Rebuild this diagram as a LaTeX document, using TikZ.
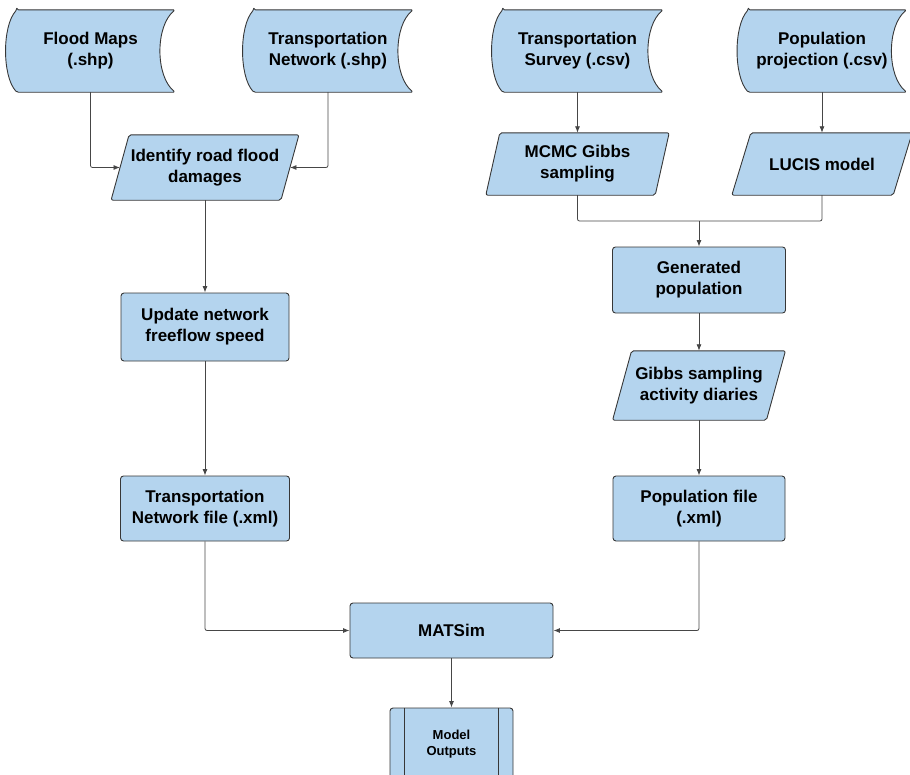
\documentclass[tikz,border=0pt]{standalone}
\usepackage{fontspec}
\setmainfont{Liberation Sans}
\usetikzlibrary{arrows.meta,backgrounds,calc}
\definecolor{boxblue}{RGB}{180,212,238}
\definecolor{edgegray}{RGB}{55,55,55}
\definecolor{linegray}{RGB}{70,70,70}
\begin{document}
\begin{tikzpicture}[x=1pt,y=-1pt,
		base/.style = {inner sep=0pt, align=center, font=\bfseries\fontsize{17}{21}\selectfont},
		proc node/.style = {base, rectangle, rounded corners=3pt, draw=edgegray, fill=boxblue, line width=0.9pt},
		io node/.style = {base, rectangle},
		store node/.style = {base, rectangle, minimum height=82},
		shape line/.style = {draw=edgegray, fill=boxblue, line width=0.9pt, line join=round},
		link/.style = {draw=linegray, line width=0.8pt, rounded corners=2pt},
		flow/.style = {link, -{Latex[length=6.5pt,width=5pt]}}]
		\useasboundingbox (0,0) rectangle (910,774);
		
		% input files
		\node[store node, minimum width=169] (fmap) at (90.5,51) {Flood Maps\\(.shp)};
		\node[store node, minimum width=170] (tnet) at (328,51) {Transportation\\Network (.shp)};
		\node[store node, minimum width=171] (tsur) at (577.5,51) {Transportation\\Survey (.csv)};
		\node[store node, minimum width=169] (pproj) at (822,51) {Population\\projection (.csv)};
		
		% data steps
		\node[io node, minimum width=169.5, minimum height=65] (ident) at (205,167.5) {Identify road flood\\damages};
		\node[io node, minimum width=169, minimum height=62] (mcmc) at (577.5,164) {MCMC Gibbs\\sampling};
		\node[io node, minimum width=161, minimum height=62] (lucis) at (822,164) {LUCIS model};
		\node[io node, minimum width=153.5, minimum height=69] (gibbs) at (699,385.5) {Gibbs sampling\\activity diaries};
		
		\node[proc node, minimum width=168, minimum height=68] (upd) at (205,327) {Update network\\freeflow speed};
		\node[proc node, minimum width=169, minimum height=65] (tfile) at (205,508.5) {Transportation\\Network file (.xml)};
		\node[proc node, minimum width=173, minimum height=66] (genpop) at (699,280) {Generated\\population};
		\node[proc node, minimum width=172, minimum height=65] (pfile) at (699,508.5) {Population file\\(.xml)};
		\node[proc node, minimum width=203, minimum height=55] (matsim) at (451.5,630.5) {MATSim};
		\node[proc node, minimum width=123, minimum height=72,
			font=\bfseries\fontsize{13}{16}\selectfont] (outp) at (451.5,744) {Model\\Outputs};
		\draw[edgegray, line width=0.9pt] ([xshift=15pt]outp.north west) -- ([xshift=15pt]outp.south west)
		([xshift=-15pt]outp.north east) -- ([xshift=-15pt]outp.south east);
		
		\coordinate (merge) at (699,221);
		
		% outlines behind the texts
		\begin{scope}[on background layer]
			\foreach \s in {fmap,tnet,tsur,pproj}
			\draw[shape line, rounded corners=1.5pt] let \p1=(\s.north west), \p2=(\s.south east) in
			(\x1+11pt,\y1) -- (\x2,\y1)
			.. controls (\x2-20pt,\y1-16pt) and (\x2-20pt,\y2+16pt) .. (\x2,\y2)
			-- (\x1+11pt,\y2)
			.. controls (\x1-3.67pt,\y2+16pt) and (\x1-3.67pt,\y1-16pt) .. (\x1+11pt,\y1) -- cycle;
			\foreach \s/\k in {ident/9,mcmc/7,lucis/9.5,gibbs/9.5}
			\draw[shape line, rounded corners=2pt] let \p1=(\s.north west), \p2=(\s.south east) in
			(\x1+\k pt,\y1) -- (\x2+\k pt,\y1) -- (\x2-\k pt,\y2) -- (\x1-\k pt,\y2) -- cycle;
		\end{scope}
		
		% connectors
		\draw[flow] (fmap.south) |- (ident.west);
		\draw[flow] (tnet.south) |- (ident.east);
		\draw[flow] (ident.south) -- (upd.north);
		\draw[flow] (upd.south) -- (tfile.north);
		\draw[flow] (tfile.south) |- (matsim.west);
		\draw[flow] (tsur.south) -- (mcmc.north);
		\draw[flow] (pproj.south) -- (lucis.north);
		\draw[link] (mcmc.south) |- (merge) -| (lucis.south);
		\draw[flow] (merge) -- (genpop.north);
		\draw[flow] (genpop.south) -- (gibbs.north);
		\draw[flow] (gibbs.south) -- (pfile.north);
		\draw[flow] (pfile.south) |- (matsim.east);
		\draw[flow] (matsim.south) -- (outp.north);
\end{tikzpicture}
\end{document}
